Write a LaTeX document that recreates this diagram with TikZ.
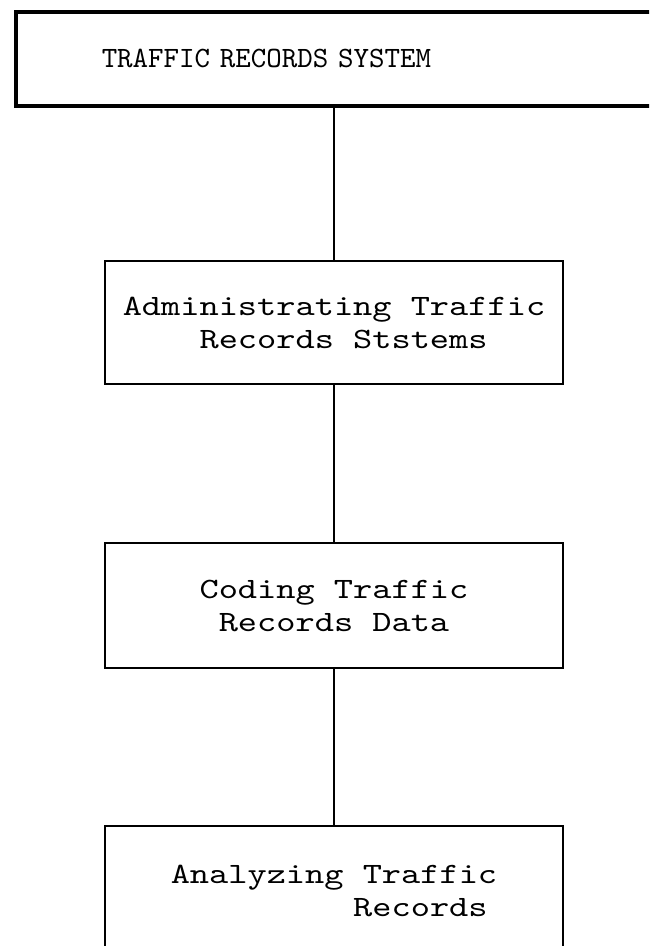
\documentclass[tikz,border=0pt]{standalone}
\usepackage{fontspec}
\newfontfamily\boxfont{lmmono10-regular}[Extension=.otf, FakeStretch=1.24]
\newfontfamily\topfont{lmmono10-regular}[Extension=.otf]
\newcommand\chsp[1]{\hspace*{#1\fontcharwd\font`x}}
\begin{document}
\begin{tikzpicture}[x=1pt,y=-1pt,
  stagebox/.style={draw, line width=2pt, minimum width=458pt, inner sep=0pt,
    font=\boxfont\fontsize{29.5}{33}\selectfont},
  link/.style={line width=2pt}]
\clip (0,0) rectangle (649,946);
\fill[white] (0,0) rectangle (649,946);
\node[draw, line width=3.5pt, anchor=north west, text width=620pt, inner xsep=86pt,
  inner ysep=0pt, minimum height=94pt, align=left,
  font=\topfont\fontsize{29.5}{33}\selectfont] (sys) at (14,10) {TRAFFIC RECORDS SYSTEM};
\node[stagebox, minimum height=123pt, align=left] (adm) at (334,322.5)
  {Administrating Traffic\\\chsp{4}Records Ststems};
\node[stagebox, minimum height=125pt, align=center] (cod) at (334,605.5)
  {Coding Traffic\\Records Data};
\node[stagebox, minimum height=130pt, align=left] (ana) at (334,891)
  {Analyzing Traffic\\\chsp{9.5}Records};
\draw[link] (sys.south -| adm.north) -- (adm.north);
\draw[link] (adm.south) -- (cod.north);
\draw[link] (cod.south) -- (ana.north);
\end{tikzpicture}
\end{document}
